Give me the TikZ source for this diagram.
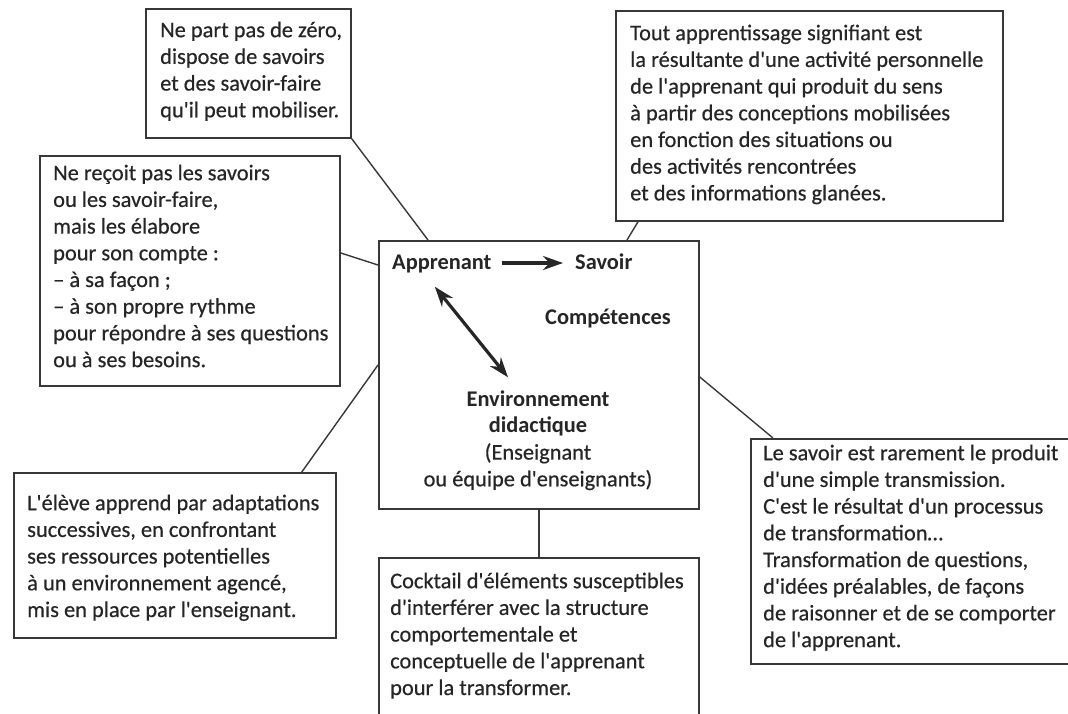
\documentclass[tikz,border=0pt]{standalone}
\usepackage{fontspec}
\setmainfont{Carlito}
% slightly heavier regular weight for the running text
\newfontfamily\bodyfont{Carlito}[FakeBold=0.45]
\usetikzlibrary{arrows.meta}
\definecolor{ink}{HTML}{262626}
\definecolor{rulecol}{HTML}{383838}
\begin{document}
\begin{tikzpicture}[x=1pt,y=-1pt,
  boxframe/.style={draw=rulecol, line width=1.8pt, inner sep=0pt, anchor=north west},
  txt/.style={text=ink, font=\fontsize{22.4}{26.7}\bodyfont, align=left, inner sep=0pt, anchor=north west},
  keyword/.style={text=ink, font=\fontsize{22.4}{26.7}\selectfont\bfseries, inner sep=0pt, anchor=base west},
  link/.style={draw=rulecol, line width=1.4pt},
  flow/.style={draw=ink, line width=3.2pt, -{Stealth[length=20pt,width=14pt]}},
  flowboth/.style={draw=ink, line width=3.2pt, {Stealth[length=20pt,width=14pt]}-{Stealth[length=20pt,width=14pt]}}]
\useasboundingbox (0,0) rectangle (1068,713);
\fill[white] (0,0) rectangle (1068,713);

% frames
\node[boxframe, minimum width=205pt, minimum height=129pt] (b1) at (145,8) {};
\node[boxframe, minimum width=300pt, minimum height=230pt] (b2) at (39,155) {};
\node[boxframe, minimum width=387pt, minimum height=210pt] (b3) at (615,10) {};
\node[boxframe, minimum width=322pt, minimum height=165pt] (b4) at (13,472) {};
\node[boxframe, minimum width=320pt, minimum height=170pt] (b5) at (378,557) {};
\node[boxframe, minimum width=330pt, minimum height=225pt] (b6) at (750,438) {};
\node[boxframe, minimum width=320pt, minimum height=268pt] (core) at (378,240) {};

% texts of the outer boxes
\node[txt] (t1) at (160,18.3) {\strut Ne part pas de zéro,\\dispose de savoirs\\et des savoir-faire\\qu'il peut mobiliser.};
\node[txt] (t2) at (53,161.3) {\strut Ne reçoit pas les savoirs\\ou les savoir-faire,\\mais les élabore\\pour son compte :\\– à sa façon ;\\– à son propre rythme\\pour répondre à ses questions\\ou à ses besoins.};
\node[txt] (t3) at (630,21.3) {\strut Tout apprentissage signifiant est\\la résultante d'une activité personnelle\\de l'apprenant qui produit du sens\\à partir des conceptions mobilisées\\en fonction des situations ou\\des activités rencontrées\\et des informations glanées.};
\node[txt] (t4) at (27,491.3) {\strut L'élève apprend par adaptations\\successives, en confrontant\\ses ressources potentielles\\à un environnement agencé,\\mis en place par l'enseignant.};
\node[txt] (t5) at (390,569.3) {\strut Cocktail d'éléments susceptibles\\d'interférer avec la structure\\comportementale et\\conceptuelle de l'apprenant\\pour la transformer.};
\node[txt] (t6) at (763,441.3) {\strut Le savoir est rarement le produit\\d'une simple transmission.\\C'est le résultat d'un processus\\de transformation…\\Transformation de questions,\\d'idées préalables, de façons\\de raisonner et de se comporter\\de l'apprenant.};

% core contents
\node[keyword] (appr) at (392,269) {Apprenant};
\node[keyword] (sav) at (575,269) {Savoir};
\node[keyword] (comp) at (545,324) {Compétences};
\node[txt, align=center, anchor=north] (env) at (538,387.3) {\strut{\rmfamily\bfseries Environnement}\\{\rmfamily\bfseries didactique}\\(Enseignant\\ou équipe d'enseignants)};

\draw[flow] ([xshift=10pt,yshift=6pt]appr.base east) -- ([xshift=-12pt,yshift=6pt]sav.base west);
\draw[flowboth] ([xshift=-7pt,yshift=-14pt]appr.south) -- ([xshift=-30pt,yshift=10pt]env.north);

% connectors
\draw[link] (b1.south east) -- ([xshift=50pt]core.north west);
\draw[link] ([yshift=-98pt]b2.north east) -- ([yshift=-25pt]core.north west);
\draw[link] ([xshift=23pt]b3.south west) -- ([xshift=249pt]core.north west);
\draw[link] ([xshift=-35pt]b4.north east) -- ([yshift=-125pt]core.north west);
\draw[link] (b5.north) -- (core.south);
\draw[link] ([xshift=23pt]b6.north west) -- ([yshift=-137pt]core.north east);
\end{tikzpicture}
\end{document}
